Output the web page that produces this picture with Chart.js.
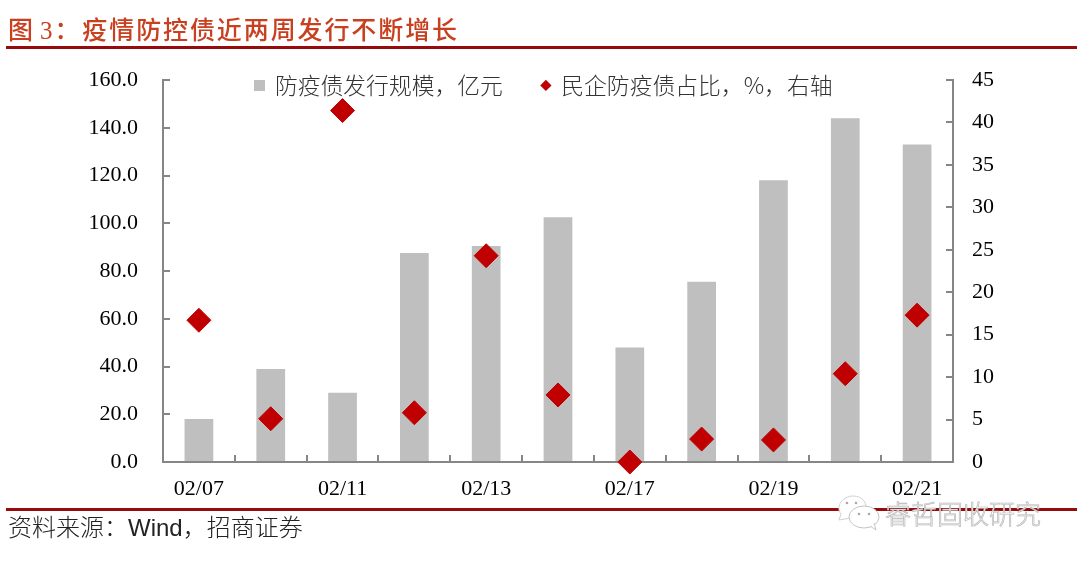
<!DOCTYPE html>
<html>
<head>
<meta charset="utf-8">
<script src="https://cdn.jsdelivr.net/npm/chart.js@4"></script>
<style>
  html, body { margin: 0; padding: 0; background: #fff; }
  #page { position: relative; width: 1080px; height: 561px; overflow: hidden; }
  #chart { position: absolute; left: 0; top: 0; }
  .rule { position: absolute; left: 6px; width: 1071px; height: 3px; background: #960c0c; }
  #title { position: absolute; left: 8px; top: 10px; font: 500 25px "Liberation Serif", "Noto Sans CJK SC"; letter-spacing: 1.9px; word-spacing: -3px; color: #c8401f; white-space: nowrap; }
  #title span { margin-left: 1px; }
  #source { position: absolute; left: 8px; top: 508px; font: 300 24px "Liberation Sans", "Noto Sans CJK SC"; color: #222; white-space: nowrap; }
  #mark { position: absolute; left: 885px; top: 494px; font: 300 26px "Noto Sans CJK SC"; color: #fff; -webkit-text-stroke: 0.7px #b5b5b5; white-space: nowrap; }
  #bubbles { position: absolute; left: 835px; top: 494px; }
</style>
</head>
<body>
<div id="page">
  <canvas id="chart" width="1080" height="561"></canvas>
  <div id="title">图 3&#xFF1A;<span>疫情防控债近两周发行不断增长</span></div>
  <div class="rule" style="top:46px"></div>
  <div class="rule" style="top:508px"></div>
  <div id="source">资料来源&#xFF1A;Wind&#xFF0C;招商证券</div>
  <svg id="bubbles" width="46" height="38" viewBox="0 0 46 38">
    <path d="M4 26 L6 20 C0 12 8 2 18 2 C27 2 31 8 31 13 L16 24 Z" fill="#fff" stroke="#d0d0d0"/>
    <ellipse cx="29" cy="23" rx="15" ry="11" fill="#fff" stroke="#c4c4c4"/>
    <path d="M35 32 L41 36 L39 29" fill="#fff" stroke="#c4c4c4"/>
    <circle cx="12" cy="9" r="1.3" fill="#aaa"/>
    <circle cx="21" cy="9" r="1.3" fill="#aaa"/>
    <circle cx="24" cy="20" r="1.3" fill="#aaa"/>
    <circle cx="34" cy="20" r="1.3" fill="#aaa"/>
  </svg>
  <div id="mark">睿哲固收研究</div>
</div>
<script>
'use strict';

const categories = ['02/07', '02/10', '02/11', '02/12', '02/13', '02/14', '02/17', '02/18', '02/19', '02/20', '02/21'];
const issue_size = [18, 39, 29, 87.5, 90.5, 102.5, 48, 75.5, 118, 144, 133];
const private_share = [16.7, 5.1, 41.4, 5.8, 24.3, 7.9, 0, 2.7, 2.6, 10.4, 17.3];

const axis_color = '#868686';
const bar_color = '#bfbfbf';
const tick_font = { family: '"Liberation Serif"', size: 22 };

// the legend sits inside the plot on one row, chart.js only offers that above it, so move it after layout
const move_legend = {
    id: 'move_legend',
    afterLayout(chart) {
        const legend = chart.legend;
        legend.left = 216.5;
        legend.right = 1080;
        legend.top = 35;
        legend.bottom = 135;
    }
};

new Chart(document.querySelector('#chart'), {
    plugins: [move_legend],
    data: {
        labels: categories,
        datasets: [
            {
                type: 'scatter',
                label: '民企防疫债占比\uFF0C%\uFF0C右轴',
                data: private_share,
                yAxisID: 'y_right',
                showLine: false,
                clip: false,
                pointStyle: 'rectRot',
                pointRadius: 12,
                backgroundColor: '#c00000',
                borderColor: '#c00000',
                order: 1
            },
            {
                type: 'bar',
                label: '防疫债发行规模\uFF0C亿元',
                data: issue_size,
                yAxisID: 'y_left',
                pointStyle: 'rect',
                backgroundColor: bar_color,
                categoryPercentage: 0.4,
                barPercentage: 1,
                order: 2
            }
        ]
    },
    options: {
        responsive: false,
        animation: false,
        layout: { padding: { top: 79 } },
        plugins: {
            tooltip: { enabled: false },
            legend: {
                position: 'top',
                align: 'start',
                maxHeight: 1,
                reverse: true,
                labels: {
                    usePointStyle: true,
                    boxWidth: 8,
                    boxHeight: 8,
                    padding: 39,
                    color: '#333',
                    font: { family: '"Noto Sans CJK SC"', size: 22.8, weight: 300 },
                    generateLabels(chart) {
                        const items = Chart.defaults.plugins.legend.labels.generateLabels(chart);
                        // the grey square is bigger than the diamond, a stroke is the only way to get that
                        items.forEach(item => {
                            item.lineWidth = item.pointStyle === 'rect' ? 3 : 0;
                            item.strokeStyle = bar_color;
                        });
                        return items;
                    }
                }
            }
        },
        scales: {
            x: {
                type: 'category',
                offset: true,
                border: { color: axis_color, width: 2 },
                grid: { offset: true, drawOnChartArea: false, color: axis_color, lineWidth: 2, tickLength: -7 },
                ticks: {
                    autoSkip: false,
                    maxRotation: 0,
                    color: '#000',
                    font: tick_font,
                    padding: 21,
                    callback(value, index) { return index % 2 === 0 ? categories[index] : ''; }
                },
                afterFit(scale) { scale.height = 561 - 462; }
            },
            y_left: {
                position: 'left',
                min: 0,
                max: 160,
                border: { color: axis_color, width: 2 },
                grid: { drawOnChartArea: false, color: axis_color, lineWidth: 2, tickLength: -7 },
                ticks: {
                    stepSize: 20,
                    color: '#000',
                    font: tick_font,
                    padding: 32,
                    callback: value => value.toFixed(1)
                },
                afterFit(scale) { scale.width = 163; }
            },
            y_right: {
                position: 'right',
                min: 0,
                max: 45,
                border: { color: axis_color, width: 2 },
                grid: { drawOnChartArea: false, color: axis_color, lineWidth: 2, tickLength: -7 },
                ticks: {
                    stepSize: 5,
                    color: '#000',
                    font: tick_font,
                    padding: 26
                },
                afterFit(scale) { scale.width = 1080 - 953; }
            }
        }
    }
});
</script>
</body>
</html>
